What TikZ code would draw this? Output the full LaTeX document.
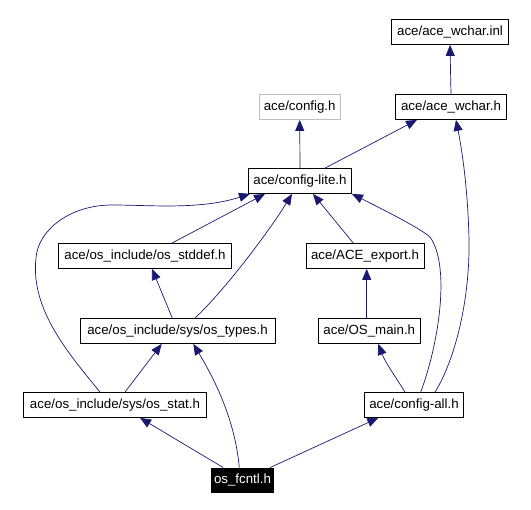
\documentclass[tikz,border=0pt]{standalone}
\usepackage{fontspec}
\setmainfont{Liberation Sans}
\usepackage{tikz}
\usetikzlibrary{arrows.meta,positioning}
\definecolor{arco}{RGB}{25,25,112}
\definecolor{grigio}{RGB}{191,191,191}
\tikzset{
  file/.style={draw=black, line width=0.8pt, inner sep=0pt, minimum height=25pt,
    font=\fontsize{13.3}{15}\selectfont},
  mancante/.style={file, draw=grigio},
  corrente/.style={file, fill=black, text=white, minimum height=24pt},
  dip/.style={draw=arco, line width=0.7pt, -{Triangle[length=11pt,width=9pt]}}
}

\begin{document}
\begin{tikzpicture}[x=1pt, y=-1pt]
    \useasboundingbox (0,0) rectangle (531,510);
    % Disegna i file inclusi
    \node[file, minimum width=117pt] (wcharinl) at (450,32) {ace/ace\_wchar.inl};
    \node[mancante, minimum width=81pt] (config) at (299.7,107) {ace/config.h};
    \node[file, minimum width=111pt] (wchar) at (451,107) {ace/ace\_wchar.h};
    \node[file, minimum width=103pt] (configlite) at (300,181) {ace/config-lite.h};
    \node[file, minimum width=173pt] (stddef) at (145,256) {ace/os\_include/os\_stddef.h};
    \node[file, minimum width=118pt] (export) at (365,256) {ace/ACE\_export.h};
    \node[file, minimum width=195pt] (types) at (177.5,331) {ace/os\_include/sys/os\_types.h};
    \node[file, minimum width=102pt] (osmain) at (369.3,331) {ace/OS\_main.h};
    \node[file, minimum width=183pt] (stat) at (115,405) {ace/os\_include/sys/os\_stat.h};
    \node[file, minimum width=99pt] (configall) at (414,405) {ace/config-all.h};
    % il file corrente
    \node[corrente, minimum width=62pt] (fcntl) at (242.5,480) {os\_fcntl.h};
    % Archi verso l'alto
    \draw[dip] (wchar.north) -- (wcharinl.south);
    \draw[dip] (configlite.north) -- (config.south);
    \draw[dip] ([xshift=25pt]configlite.north) -- ([xshift=-34pt]wchar.south);
    \draw[dip] ([xshift=27pt]stddef.north) -- ([xshift=-35pt]configlite.south);
    \draw[dip] ([xshift=17.5pt]types.north) .. controls (225,290) and (270,230) .. ([xshift=-8pt]configlite.south);
    \draw[dip] ([xshift=-15pt]stat.north) .. controls (70,355) and (30,310) .. (36,258)
        .. controls (38,230) and (70,205) .. (112,205)
        .. controls (150,205) and (200,210) .. ([xshift=-50pt]configlite.south);
    \draw[dip] ([xshift=-11.7pt]export.north) -- ([xshift=13pt]configlite.south);
    \draw[dip] ([xshift=6.7pt]configall.north) .. controls (440,340) and (450,265) .. (430,237)
        .. controls (420,228) and (380,208) .. (configlite.south east);
    \draw[dip] ([xshift=21pt]configall.north) .. controls (455,360) and (470,300) .. (469,240)
        .. controls (468,190) and (462,150) .. ([xshift=5pt]wchar.south);
    \draw[dip] ([xshift=-5.2pt]types.north) -- ([xshift=7pt]stddef.south);
    \draw[dip] ([xshift=-2.6pt]osmain.north) -- ([xshift=1.7pt]export.south);
    \draw[dip] ([xshift=10pt]stat.north) -- ([xshift=-15.8pt]types.south);
    \draw[dip] ([xshift=-3.2pt]fcntl.north) .. controls (235,420) and (215,380) .. ([xshift=15.8pt]types.south);
    \draw[dip] ([xshift=-9pt]configall.north) .. controls (395,376) and (385,362) .. ([xshift=9pt]osmain.south);
    % Archi dal file corrente
    \draw[dip] ([xshift=-19.2pt]fcntl.north) -- ([xshift=25pt]stat.south);
    \draw[dip] ([xshift=27.5pt]fcntl.north) -- ([xshift=-35.7pt]configall.south);
\end{tikzpicture}
\end{document}
